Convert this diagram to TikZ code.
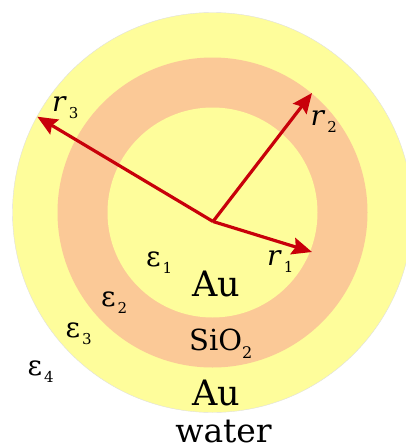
\documentclass[tikz,border=0pt]{standalone}
\usepackage{fontspec}
\setmainfont{DejaVu Serif}
\usetikzlibrary{arrows.meta,calc,positioning}
\definecolor{shellyellow}{HTML}{FEFD9B}
\definecolor{shellpeach}{HTML}{FBC997}
\definecolor{arrowred}{HTML}{C8000A}
\newcommand{\symlab}[2]{#1\kern2pt\raisebox{-7pt}{\fontsize{15}{15}\selectfont #2}}

\begin{document}
\begin{tikzpicture}[x=1pt,y=-1pt,
    radius/.style={-{Stealth[length=20pt,width=17pt,inset=3pt]},line width=3.2pt,draw=arrowred},
    symbol/.style={anchor=base west,inner sep=0pt,font=\fontsize{28}{28}\selectfont},
    material/.style={anchor=base,inner sep=0pt,text depth=0pt,font=\fontsize{35}{35}\selectfont}]
        \useasboundingbox (0,0) rectangle (405,447);
        \coordinate (c) at (212.5,212.5);
        \coordinate (o) at (213,221.5);
        \coordinate (t1) at (312,252);
        \coordinate (t2) at (312,93);
        \coordinate (t3) at (37.3,116.7);
        %Shells
        \filldraw[fill=shellyellow,draw=gray!25,line width=0.4pt] (c) circle(200pt);
        \fill[shellpeach] (c) circle(155pt);
        \fill[shellyellow] (c) circle(105pt);
        %Radii
        \draw[radius] (o) -- (t1);
        \draw[radius] (o) -- (t2);
        \draw[radius] (o) -- (t3);
        %Labels
        \node[symbol] (r1) at (267,265) {\symlab{\textit{r}}{1}};
        \node[symbol] (r2) at (310.5,125) {\symlab{\textit{r}}{2}};
        \node[symbol] (r3) at (52,111.7) {\symlab{\textit{r}}{3}};
        \node[symbol] (e1) at (146,266) {\symlab{ε}{1}};
        \node[symbol] (e2) at (101,306.7) {\symlab{ε}{2}};
        \node[symbol] (e3) at (65.5,337.3) {\symlab{ε}{3}};
        \node[symbol] (e4) at (27.5,375) {\symlab{ε}{4}};
        \node[material] (core) at (216,296.7) {Au};
        \node[material,anchor=base west,font=\fontsize{29}{29}\selectfont] (silica) at (189,350) {SiO\raisebox{-8pt}{\fontsize{16}{16}\selectfont 2}};
        \node[material] (shell) at (216,405) {Au};
        \node[material,font=\fontsize{33}{33}\selectfont] (water) at (223.5,442.5) {water};
      \end{tikzpicture}
\end{document}
